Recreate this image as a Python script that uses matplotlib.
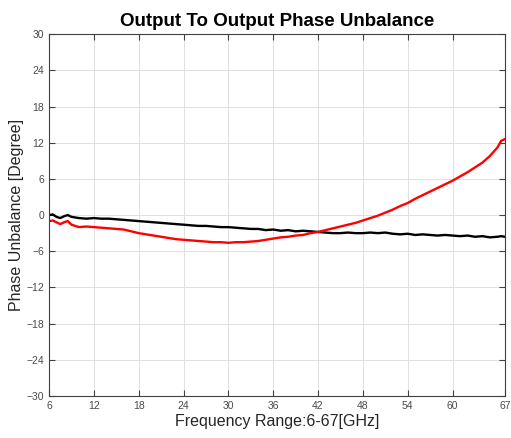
import matplotlib
matplotlib.use("Agg")
import matplotlib.pyplot as plt

plt.rcParams['font.family'] = ['Liberation Sans', 'DejaVu Sans']

# frequency points (GHz)
freq = [6, 6.5, 7, 7.5, 8, 8.5, 9, 10, 11, 12, 13, 14, 15, 16, 17, 18, 19, 20,
        21, 22, 23, 24, 25, 26, 27, 28, 29, 30, 31, 32, 33, 34, 35, 36, 37, 38,
        39, 40, 41, 42, 43, 44, 45, 46, 47, 48, 49, 50, 51, 52, 53, 54, 55, 56,
        57, 58, 59, 60, 61, 62, 63, 64, 65, 66, 66.5, 67]

# black trace
phase_a = [0.0, 0.1, -0.3, -0.5, -0.2, 0.0, -0.3, -0.5, -0.6, -0.5, -0.6, -0.6,
           -0.7, -0.8, -0.9, -1.0, -1.1, -1.2, -1.3, -1.4, -1.5, -1.6, -1.7, -1.8,
           -1.8, -1.9, -2.0, -2.0, -2.1, -2.2, -2.3, -2.3, -2.5, -2.4, -2.6, -2.5,
           -2.7, -2.6, -2.7, -2.8, -2.9, -3.0, -3.0, -2.9, -3.0, -3.0, -2.9, -3.0,
           -2.9, -3.1, -3.2, -3.1, -3.3, -3.2, -3.3, -3.4, -3.3, -3.4, -3.5, -3.4,
           -3.6, -3.5, -3.7, -3.6, -3.5, -3.6]

# red trace
phase_b = [-1.0, -0.9, -1.2, -1.5, -1.2, -1.0, -1.6, -2.0, -1.9, -2.0, -2.1, -2.2,
           -2.3, -2.4, -2.7, -3.0, -3.2, -3.4, -3.6, -3.8, -4.0, -4.1, -4.2, -4.3,
           -4.4, -4.5, -4.5, -4.6, -4.5, -4.5, -4.4, -4.3, -4.1, -3.9, -3.7, -3.6,
           -3.4, -3.3, -3.0, -2.8, -2.5, -2.2, -1.9, -1.6, -1.3, -0.9, -0.5, -0.1,
           0.4, 0.9, 1.5, 2.0, 2.7, 3.3, 3.9, 4.5, 5.1, 5.7, 6.4, 7.1, 7.9, 8.7,
           9.8, 11.2, 12.3, 12.6]

xticks = [6, 12, 18, 24, 30, 36, 42, 48, 54, 60, 67]
yticks = list(range(-30, 31, 6))

fig = plt.figure(figsize=(5.11, 4.38), dpi=100)
ax = fig.add_axes([0.096, 0.096, 0.892, 0.826])

ax.plot(freq, phase_a, color="black", linewidth=1.7)
ax.plot(freq, phase_b, color="red", linewidth=1.7)

ax.set_xlim(6, 67)
ax.set_ylim(-30, 30)
ax.set_xticks(xticks)
ax.set_yticks(yticks)
ax.tick_params(direction="in", top=True, right=True, labelsize=7.5,
               labelcolor="#4a4a4a", color="#404040", length=4)
ax.grid(True, color="#e0e0e0", linewidth=0.7)
for s in ax.spines.values():
    s.set_color("#404040")
    s.set_linewidth(0.8)

ax.set_title("Output To Output Phase Unbalance", fontsize=13.5, fontweight="bold")
ax.set_xlabel("Frequency Range:6-67[GHz]", fontsize=11.5, color="#262626", labelpad=2)
ax.set_ylabel("Phase Unbalance [Degree]", fontsize=11.5, color="#262626", labelpad=2)

plt.savefig("out.png", dpi=100)
